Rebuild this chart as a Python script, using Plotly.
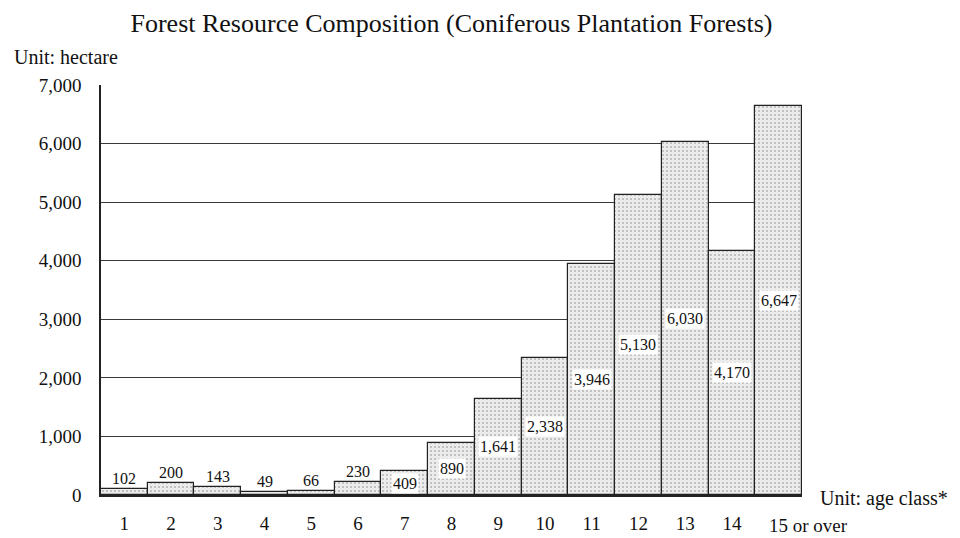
import plotly.graph_objects as go

categories = ["1", "2", "3", "4", "5", "6", "7", "8", "9", "10", "11", "12", "13", "14", "15 or over"]
values = [102, 200, 143, 49, 66, 230, 409, 890, 1641, 2338, 3946, 5130, 6030, 4170, 6647]
label_texts = ["102", "200", "143", "49", "66", "230", "409", "890", "1,641", "2,338",
               "3,946", "5,130", "6,030", "4,170", "6,647"]
# where each value label sits: above the bar or centred in it
label_modes = ["above"] * 6 + ["middle"] * 9
y_ticks = [0, 1000, 2000, 3000, 4000, 5000, 6000, 7000]
y_ticktext = ["0", "1,000", "2,000", "3,000", "4,000", "5,000", "6,000", "7,000"]

FONT = "Liberation Serif, Times New Roman, serif"
INK = "#111"

fig = go.Figure()
fig.add_trace(go.Bar(
    x=categories, y=values,
    marker=dict(
        color="#e6e6e6",
        line=dict(color="#222", width=1.2),
        pattern=dict(shape=".", fgcolor="#808080", bgcolor="#ececec", size=4, solidity=0.22),
    ),
    hoverinfo="x+y",
))

annotations = []
for i, (v, t, m) in enumerate(zip(values, label_texts, label_modes)):
    if m == "above":
        annotations.append(dict(x=i, y=v, text=t, showarrow=False, yanchor="bottom", yshift=0,
                                font=dict(family=FONT, size=16, color=INK)))
    else:
        annotations.append(dict(x=i, y=v / 2, text=t, showarrow=False, yanchor="middle",
                                bgcolor="white", borderpad=1,
                                font=dict(family=FONT, size=16, color=INK)))

# last category label starts near the bar centre and runs to the right
last = len(categories) - 1
annotations.append(dict(x=last, y=0, text=categories[last], showarrow=False,
                        yanchor="middle", yshift=-30, xanchor="left", xshift=-12,
                        font=dict(family=FONT, size=19, color=INK)))

annotations.append(dict(xref="paper", yref="paper", x=1.0228, y=0, yshift=-3,
                        text="Unit: age class*", showarrow=False, xanchor="left", yanchor="middle",
                        font=dict(family=FONT, size=20, color=INK)))
annotations.append(dict(xref="paper", yref="paper", x=-0.127, y=1.068, text="Unit: hectare",
                        showarrow=False, xanchor="left", yanchor="middle",
                        font=dict(family=FONT, size=20, color=INK)))

tick_text_x = categories[:-1] + [""]

fig.update_layout(
    width=952, height=530,
    margin=dict(l=93, r=158, t=77, b=43),
    paper_bgcolor="white", plot_bgcolor="white",
    bargap=0,
    showlegend=False,
    title=dict(text="Forest Resource Composition (Coniferous Plantation Forests)",
               x=0.5, xanchor="center", xref="paper", y=0.972, yanchor="middle",
               font=dict(family=FONT, size=26, color=INK)),
    font=dict(family=FONT, size=19, color=INK),
    annotations=annotations,
    xaxis=dict(type="category", categoryorder="array", categoryarray=categories,
               range=[-0.5, len(categories) - 0.5], automargin=False,
               tickvals=categories, ticktext=tick_text_x,
               showline=True, linecolor="#222", linewidth=1.5,
               showgrid=False, ticks="", ticklabelstandoff=10,
               tickfont=dict(family=FONT, size=19, color=INK)),
    yaxis=dict(range=[0, 7000], tickvals=y_ticks, ticktext=y_ticktext, showline=True,
               automargin=False,
               linecolor="#222", linewidth=1.5, showgrid=True, gridcolor="#3a3a3a", gridwidth=1,
               ticks="", ticklabelstandoff=14, zeroline=False,
               tickfont=dict(family=FONT, size=19, color=INK)),
)

fig.write_html("out.html")
